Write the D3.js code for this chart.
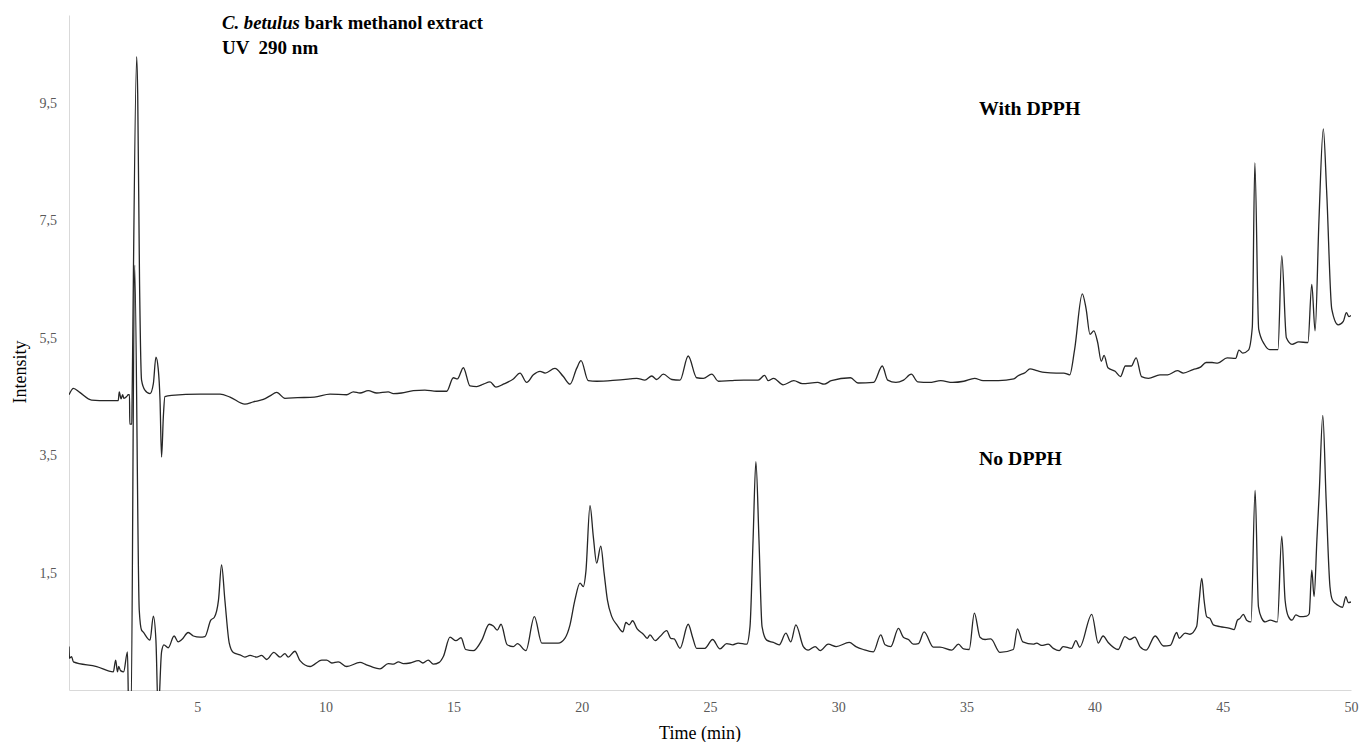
<!DOCTYPE html>
<html>
<head>
<meta charset="utf-8">
<script src="https://cdn.jsdelivr.net/npm/d3@7"></script>
<style>
  html, body { margin: 0; padding: 0; background: #fff; }
  svg { display: block; }
  text { font-family: "Liberation Serif", "Times New Roman", serif; }
</style>
</head>
<body>
<svg id="chart" width="1360" height="742"></svg>
<script>
// ---- Data ----
const xTicks = [5, 10, 15, 20, 25, 30, 35, 40, 45, 50];
const yTicks = [1.5, 3.5, 5.5, 7.5, 9.5];
const seriesNames = ["With DPPH", "No DPPH"];

const timeWith = [0.00,0.17,0.42,0.88,1.50,1.92,1.96,2.03,2.09,2.14,2.25,2.31,2.36,2.37,2.45,2.46,2.64,2.68,2.75,2.83,2.96,3.16,3.29,3.39,3.48,3.55,3.61,3.68,3.74,4.00,5.11,5.89,6.28,6.86,7.19,7.58,7.84,8.10,8.42,8.92,9.57,10.18,10.83,11.09,11.35,11.67,12.00,12.45,12.65,12.97,13.43,13.88,14.33,14.73,14.99,15.15,15.38,15.64,15.90,16.16,16.42,16.65,16.94,17.33,17.59,17.85,18.11,18.37,18.57,18.95,19.28,19.54,19.80,19.97,20.25,20.58,21.36,21.88,22.14,22.46,22.73,22.92,23.18,23.51,23.83,24.15,24.48,24.74,25.07,25.33,25.80,26.32,26.88,27.13,27.27,27.48,27.85,28.27,28.60,29.20,29.45,29.73,30.48,30.77,31.38,31.72,31.93,32.25,32.55,32.85,33.10,33.55,34.00,34.46,34.90,35.32,35.65,36.25,36.85,37.00,37.30,37.48,37.75,38.05,38.50,38.80,39.03,39.22,39.52,39.67,39.82,39.97,40.12,40.26,40.37,40.52,40.80,41.01,41.20,41.43,41.62,41.83,42.10,42.55,42.85,43.23,43.46,43.84,44.13,44.35,44.58,44.80,45.17,45.50,45.63,45.78,46.00,46.15,46.25,46.40,46.62,46.83,47.15,47.30,47.48,47.70,47.96,48.32,48.47,48.60,48.75,48.92,49.05,49.25,49.50,49.70,49.82,49.92,50.00];
const valWith = [4.53,4.64,4.57,4.44,4.43,4.43,4.58,4.46,4.53,4.47,4.50,4.53,4.53,4.03,4.03,4.40,10.29,9.64,6.50,4.78,4.61,4.55,4.72,5.17,4.97,4.44,3.47,4.16,4.50,4.52,4.54,4.54,4.49,4.37,4.41,4.45,4.51,4.57,4.47,4.48,4.49,4.54,4.53,4.58,4.56,4.60,4.56,4.58,4.55,4.56,4.60,4.61,4.59,4.59,4.82,4.80,4.99,4.68,4.67,4.71,4.75,4.66,4.71,4.80,4.90,4.74,4.87,4.93,4.90,4.98,4.84,4.71,4.98,5.11,4.77,4.76,4.78,4.80,4.81,4.78,4.85,4.79,4.88,4.79,4.78,5.19,4.82,4.81,4.88,4.76,4.77,4.78,4.78,4.86,4.77,4.81,4.70,4.77,4.72,4.74,4.71,4.77,4.82,4.73,4.74,5.02,4.78,4.74,4.78,4.88,4.75,4.74,4.77,4.74,4.76,4.81,4.77,4.77,4.80,4.85,4.91,4.97,4.94,4.91,4.90,4.90,4.87,5.30,6.25,5.99,5.56,5.62,5.42,5.10,5.20,4.99,4.93,4.84,5.02,5.02,5.16,4.84,4.81,4.87,4.87,4.94,4.90,4.96,5.00,5.08,5.08,5.07,5.16,5.15,5.29,5.24,5.29,5.68,8.48,5.65,5.39,5.30,5.30,6.90,5.50,5.39,5.43,5.42,6.41,5.62,7.50,9.06,8.00,5.99,5.72,5.78,5.93,5.86,5.88];

const timeNo = [0.00,0.02,0.10,0.17,1.08,1.73,1.82,1.89,1.94,2.01,2.13,2.28,2.33,2.42,2.56,2.74,2.83,2.89,3.16,3.29,3.39,3.48,3.61,3.70,3.87,4.10,4.26,4.40,4.65,4.85,5.11,5.30,5.53,5.67,5.83,5.95,6.08,6.25,6.41,6.67,6.86,7.06,7.32,7.51,7.71,7.99,8.23,8.42,8.55,8.81,9.01,9.40,9.86,10.05,10.25,10.50,10.83,11.35,11.60,12.13,12.45,12.65,12.85,13.04,13.30,13.63,13.80,14.01,14.21,14.44,14.60,14.86,15.09,15.29,15.47,15.77,16.10,16.39,16.55,16.70,16.85,17.09,17.33,17.49,17.82,18.15,18.44,18.76,19.08,19.34,19.54,19.73,19.93,20.06,20.16,20.32,20.45,20.58,20.74,20.87,21.00,21.17,21.37,21.60,21.72,21.85,21.98,22.16,22.40,22.55,22.66,22.86,23.05,23.31,23.47,23.60,23.83,24.15,24.32,24.48,24.80,25.10,25.39,25.65,25.89,26.10,26.43,26.56,26.68,26.79,26.91,27.03,27.21,27.47,27.70,27.96,28.15,28.35,28.64,28.83,29.10,29.30,29.61,29.92,30.43,30.69,30.98,31.37,31.66,31.83,32.05,32.35,32.54,32.74,32.93,33.13,33.35,33.71,33.97,34.43,34.69,34.89,35.11,35.31,35.53,35.73,35.95,36.31,36.83,36.99,37.20,37.61,37.74,37.93,38.19,38.39,38.62,38.77,39.10,39.27,39.42,39.89,40.14,40.33,40.53,40.92,41.18,41.37,41.57,41.77,42.01,42.36,42.69,42.95,43.20,43.30,43.53,43.72,43.98,44.07,44.18,44.27,44.37,44.50,44.63,44.89,45.28,45.44,45.57,45.67,45.80,45.93,46.10,46.26,46.39,46.52,46.65,46.85,47.13,47.30,47.43,47.56,47.70,47.85,48.01,48.27,48.37,48.47,48.56,48.67,48.76,48.90,49.03,49.18,49.28,49.50,49.67,49.80,49.89,50.00];
const valNo = [0.24,0.04,0.07,-0.02,-0.10,-0.19,0.01,-0.19,-0.10,-0.17,-0.19,0.15,-0.90,-0.90,6.74,0.86,0.52,0.49,0.35,0.76,0.35,-0.90,0.15,0.27,0.22,0.42,0.32,0.36,0.48,0.42,0.40,0.41,0.69,0.74,1.03,1.63,1.03,0.30,0.14,0.10,0.06,0.09,0.06,0.09,0.02,0.14,0.06,0.12,0.06,0.16,0.00,-0.10,0.01,0.01,-0.04,-0.02,-0.10,-0.03,-0.07,-0.14,-0.05,-0.06,-0.02,-0.05,-0.04,0.00,-0.04,0.01,-0.06,-0.03,0.07,0.40,0.34,0.39,0.19,0.17,0.35,0.62,0.59,0.52,0.62,0.27,0.24,0.29,0.17,0.75,0.30,0.30,0.30,0.38,0.61,1.03,1.32,1.26,1.52,2.64,2.11,1.66,1.95,1.49,1.03,0.75,0.61,0.49,0.65,0.61,0.68,0.54,0.45,0.38,0.44,0.34,0.41,0.51,0.38,0.37,0.21,0.62,0.40,0.21,0.21,0.36,0.20,0.29,0.27,0.30,0.28,0.58,2.06,3.39,2.06,0.58,0.35,0.31,0.27,0.47,0.32,0.61,0.24,0.18,0.24,0.17,0.28,0.24,0.31,0.24,0.19,0.15,0.44,0.27,0.24,0.55,0.40,0.36,0.28,0.29,0.49,0.23,0.23,0.18,0.28,0.20,0.19,0.81,0.40,0.36,0.37,0.14,0.19,0.54,0.32,0.28,0.30,0.26,0.28,0.21,0.17,0.24,0.21,0.34,0.23,0.79,0.30,0.42,0.31,0.19,0.41,0.36,0.40,0.24,0.18,0.42,0.25,0.26,0.48,0.38,0.47,0.45,0.58,0.98,1.40,1.03,0.75,0.72,0.61,0.58,0.55,0.53,0.69,0.72,0.79,0.69,0.66,2.90,0.92,0.72,0.66,0.69,0.66,2.12,1.03,0.75,0.69,0.78,0.75,0.76,0.80,1.54,1.09,2.06,2.85,4.18,2.74,1.26,1.03,0.94,0.91,1.09,0.99,1.00];

// ---- Layout ----
const svg = d3.select("#chart");
const mLeft = 69, mRight = 1351, mTop = 15, mBottom = 690;

const x = d3.scaleLinear().domain([0, 50]).range([mLeft, mRight]);
const y = d3.scaleLinear().domain([-0.5, 11]).range([mBottom, mTop]);
const fmt = v => String(v).replace(".", ",");

svg.append("defs").append("clipPath").attr("id", "plotclip")
  .append("rect").attr("x", mLeft).attr("y", mTop).attr("width", mRight - mLeft).attr("height", mBottom - mTop + 1);

// Axes
const xAxis = svg.append("g").attr("transform", `translate(0,${mBottom})`)
  .call(d3.axisBottom(x).tickValues(xTicks).tickSize(0).tickPadding(12).tickFormat(fmt));
const yAxis = svg.append("g").attr("transform", `translate(${mLeft},0)`)
  .call(d3.axisLeft(y).tickValues(yTicks).tickSize(0).tickPadding(12).tickFormat(fmt));
[xAxis, yAxis].forEach(g => {
  g.select(".domain").attr("stroke", "#d9d9d9").attr("stroke-width", 1);
  g.selectAll("text").attr("fill", "#595959").attr("font-size", "14px")
    .attr("font-family", '"Liberation Serif", "Times New Roman", serif');
});

// Lines
const line = d3.line().x(d => x(d[0])).y(d => y(d[1])).curve(d3.curveMonotoneX);
const dataWith = timeWith.map((t, i) => [t, valWith[i]]);
const dataNo = timeNo.map((t, i) => [t, valNo[i]]);

const plot = svg.append("g").attr("clip-path", "url(#plotclip)");
[dataWith, dataNo].forEach(d => {
  plot.append("path").datum(d).attr("d", line)
    .attr("fill", "none").attr("stroke", "#262626").attr("stroke-width", 1.3)
    .attr("stroke-linejoin", "round");
});

// Axis titles
svg.append("text").attr("x", 700).attr("y", 739).attr("text-anchor", "middle")
  .attr("font-size", "18px").attr("fill", "#000").text("Time (min)");
svg.append("text").attr("transform", "translate(26,372) rotate(-90)").attr("text-anchor", "middle")
  .attr("font-size", "18px").attr("fill", "#000").text("Intensity");

// Title
const title = svg.append("text").attr("x", 222).attr("y", 29)
  .attr("font-size", "18.7px").attr("font-weight", "bold").attr("fill", "#000");
title.append("tspan").attr("font-style", "italic").text("C. betulus");
title.append("tspan").text(" bark methanol extract");
svg.append("text").attr("x", 222).attr("y", 54)
  .attr("font-size", "19px").attr("font-weight", "bold").attr("fill", "#000")
  .style("white-space", "pre").text("UV  290 nm");

// Series labels
svg.append("text").attr("x", 979).attr("y", 115).attr("font-size", "19.8px")
  .attr("font-weight", "bold").attr("fill", "#000").text(seriesNames[0]);
svg.append("text").attr("x", 979).attr("y", 465).attr("font-size", "19.8px")
  .attr("font-weight", "bold").attr("fill", "#000").text(seriesNames[1]);
</script>
</body>
</html>
